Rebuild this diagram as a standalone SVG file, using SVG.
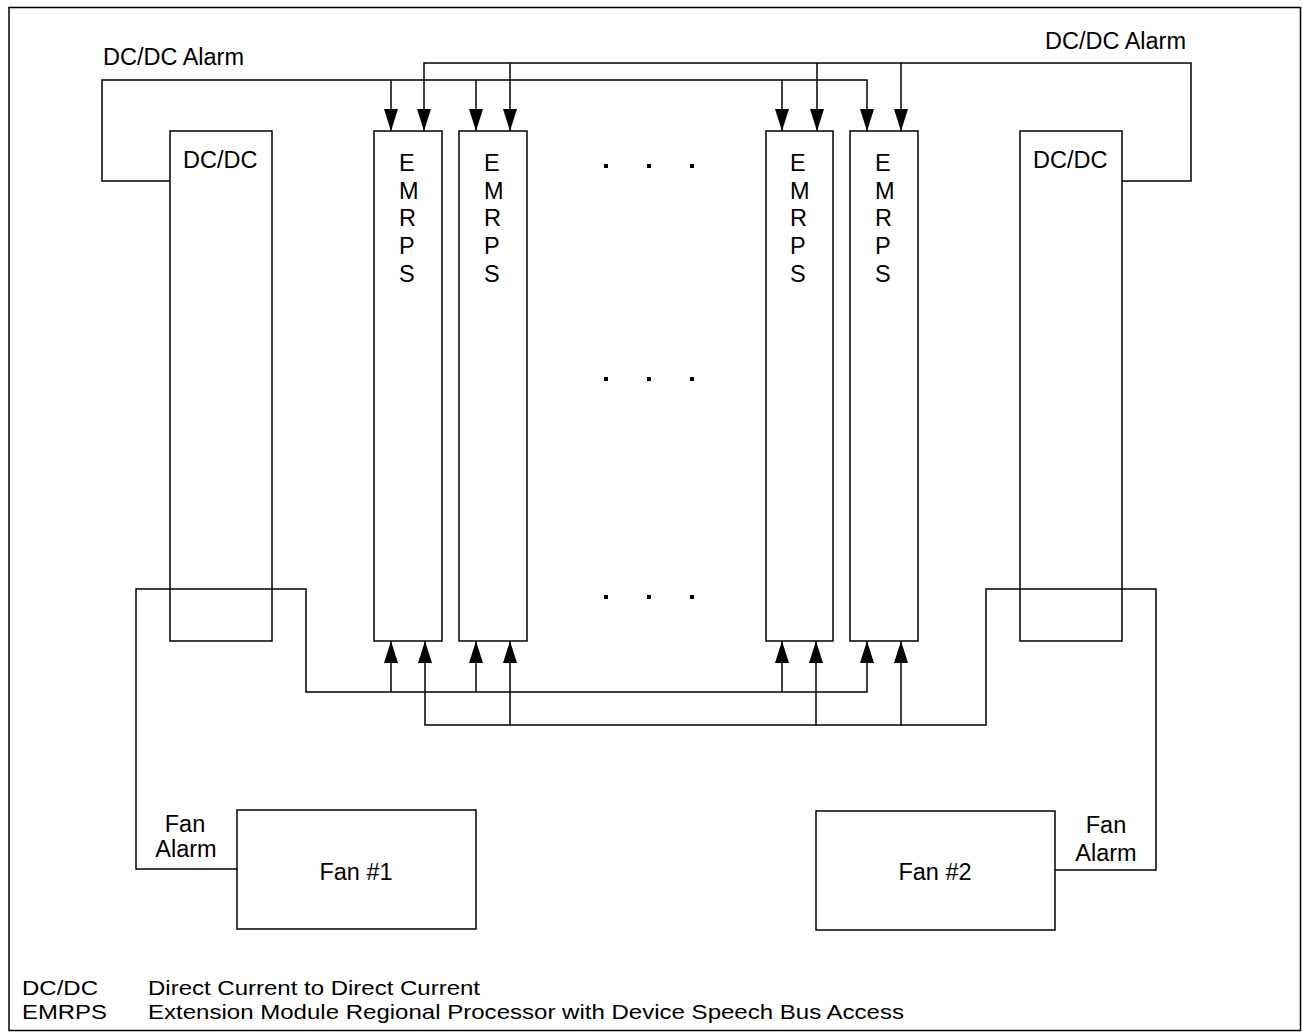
<svg xmlns="http://www.w3.org/2000/svg" width="1302" height="1035" viewBox="0 0 1302 1035">
<style>
.box{fill:#fff;stroke:#000;stroke-width:1.5}
.wire{fill:none;stroke:#000;stroke-width:1.5}
.t{font-family:"Liberation Sans",Arial,sans-serif;font-size:23.5px;fill:#000}
.lg{font-size:21px}
.c{text-anchor:middle}
</style>
<defs>
<marker id="ah" markerUnits="userSpaceOnUse" markerWidth="23" markerHeight="14" refX="22" refY="7" orient="auto" viewBox="0 0 23 14">
<path d="M0,0 L22,7 L0,14 z" fill="#000"/>
</marker>
</defs>
<rect x="9" y="7.5" width="1291.5" height="1023" fill="#fff" stroke="#000" stroke-width="1.5"/>
<g id="dcdc-left"><rect class="box" x="170" y="131" width="102" height="510"/><text class="t" x="183" y="167.5">DC/DC</text></g>
<g id="dcdc-right"><rect class="box" x="1020" y="131" width="102" height="510"/><text class="t" x="1033" y="167.5">DC/DC</text></g>
<g id="emrps-1"><rect class="box" x="374" y="131" width="68" height="510"/><text class="t"><tspan x="399" y="171">E</tspan><tspan x="399" y="198.5">M</tspan><tspan x="399" y="226">R</tspan><tspan x="399" y="254">P</tspan><tspan x="399" y="281.5">S</tspan></text></g>
<g id="emrps-2"><rect class="box" x="459" y="131" width="68" height="510"/><text class="t"><tspan x="484" y="171">E</tspan><tspan x="484" y="198.5">M</tspan><tspan x="484" y="226">R</tspan><tspan x="484" y="254">P</tspan><tspan x="484" y="281.5">S</tspan></text></g>
<g id="emrps-3"><rect class="box" x="766" y="131" width="67" height="510"/><text class="t"><tspan x="790" y="171">E</tspan><tspan x="790" y="198.5">M</tspan><tspan x="790" y="226">R</tspan><tspan x="790" y="254">P</tspan><tspan x="790" y="281.5">S</tspan></text></g>
<g id="emrps-4"><rect class="box" x="850" y="131" width="68" height="510"/><text class="t"><tspan x="875" y="171">E</tspan><tspan x="875" y="198.5">M</tspan><tspan x="875" y="226">R</tspan><tspan x="875" y="254">P</tspan><tspan x="875" y="281.5">S</tspan></text></g>
<g id="fan-1"><rect class="box" x="237" y="810" width="239" height="119"/><text class="t c" x="356" y="880">Fan #1</text></g>
<g id="fan-2"><rect class="box" x="816" y="811" width="239" height="119"/><text class="t c" x="935" y="880">Fan #2</text></g>
<g id="dots" fill="#000">
<rect x="604" y="164" width="4" height="4"/><rect x="647" y="164" width="4" height="4"/><rect x="690" y="164" width="4" height="4"/>
<rect x="604" y="377" width="4" height="4"/><rect x="647" y="377" width="4" height="4"/><rect x="690" y="377" width="4" height="4"/>
<rect x="604" y="595" width="4" height="4"/><rect x="647" y="595" width="4" height="4"/><rect x="690" y="595" width="4" height="4"/>
</g>
<g id="connectors">
<path class="wire" d="M170,181 H102 V80 H867 V131" marker-end="url(#ah)"/>
<path class="wire" d="M391,80 V131" marker-end="url(#ah)"/>
<path class="wire" d="M476,80 V131" marker-end="url(#ah)"/>
<path class="wire" d="M782,80 V131" marker-end="url(#ah)"/>
<path class="wire" d="M1122,181 H1191 V63 H424 V131" marker-end="url(#ah)"/>
<path class="wire" d="M510,63 V131" marker-end="url(#ah)"/>
<path class="wire" d="M817,63 V131" marker-end="url(#ah)"/>
<path class="wire" d="M901,63 V131" marker-end="url(#ah)"/>
<path class="wire" d="M237,869 H136 V589 H306 V692 H867 V641" marker-end="url(#ah)"/>
<path class="wire" d="M391,692 V641" marker-end="url(#ah)"/>
<path class="wire" d="M476,692 V641" marker-end="url(#ah)"/>
<path class="wire" d="M782,692 V641" marker-end="url(#ah)"/>
<path class="wire" d="M1055,870 H1156 V589 H986 V725 H425 V641" marker-end="url(#ah)"/>
<path class="wire" d="M510,725 V641" marker-end="url(#ah)"/>
<path class="wire" d="M816,725 V641" marker-end="url(#ah)"/>
<path class="wire" d="M901,725 V641" marker-end="url(#ah)"/>
</g>
<g id="labels">
<text class="t" x="103" y="65">DC/DC Alarm</text>
<text class="t" x="1186" y="49" text-anchor="end">DC/DC Alarm</text>
<text class="t c" x="185" y="832">Fan</text>
<text class="t c" x="186" y="857">Alarm</text>
<text class="t c" x="1106" y="833">Fan</text>
<text class="t c" x="1106" y="861">Alarm</text>
</g>
<g id="legend">
<text class="t lg" x="22" y="995" textLength="76" lengthAdjust="spacingAndGlyphs">DC/DC</text>
<text class="t lg" x="148" y="995" textLength="332" lengthAdjust="spacingAndGlyphs">Direct Current to Direct Current</text>
<text class="t lg" x="22" y="1019" textLength="85" lengthAdjust="spacingAndGlyphs">EMRPS</text>
<text class="t lg" x="148" y="1019" textLength="756" lengthAdjust="spacingAndGlyphs">Extension Module Regional Processor with Device Speech Bus Access</text>
</g>
</svg>
